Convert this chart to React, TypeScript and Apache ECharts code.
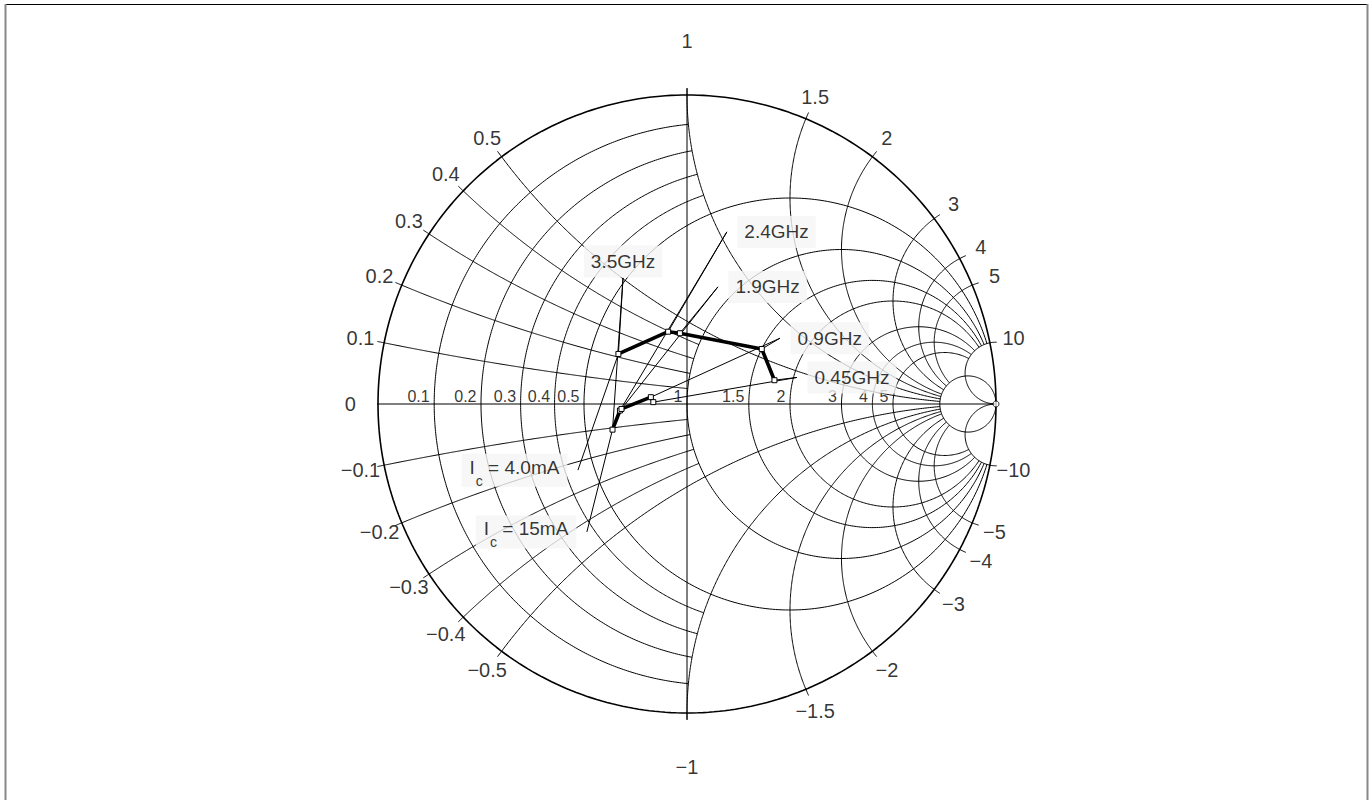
import React, { useEffect, useRef } from "react";
import * as echarts from "echarts";

const FONT = "'Liberation Sans', Arial, Helvetica, sans-serif";

// Smith chart grid values (each circle is drawn until it meets the circle of the other family given in the *Max arrays)
const resistanceValues = [0.1, 0.2, 0.3, 0.4, 0.5, 1, 1.5, 2, 3, 4, 5, 10];
const resistanceMaxX = [1, 1, 1, 1, 10, 10, 10, 10, 10, 10, 10, Infinity];
const reactanceValues = [0.1, 0.2, 0.3, 0.4, 0.5, 1, 1.5, 2, 3, 4, 5, 10];
const reactanceMaxR = [1, 1, 1, 1, 10, 10, 10, 10, 10, 10, 10, Infinity];
const outerTickValues = [0, 0.1, 0.2, 0.3, 0.4, 0.5, 1, 1.5, 2, 3, 4, 5, 10, -0.1, -0.2, -0.3, -0.4, -0.5, -1, -1.5, -2, -3, -4, -5, -10];
const realAxisTickValues = [0.1, 0.2, 0.3, 0.4, 0.5, 1, 1.5, 2, 3, 4, 5];

// Measured reflection coefficients
const frequencies = ["3.5GHz", "2.4GHz", "1.9GHz", "0.9GHz", "0.45GHz"];
const gammaRe4mA = [-0.222, -0.061, -0.023, 0.242, 0.283];
const gammaIm4mA = [0.162, 0.234, 0.229, 0.178, 0.077];
const gammaRe15mA = [-0.241, -0.217, -0.212, -0.117, -0.109];
const gammaIm15mA = [-0.083, -0.021, -0.016, 0.022, 0.006];

// annotation anchor positions (layout, in chart units)
const freqAnchorRe = [-0.207, 0.129, 0.1, 0.301, 0.356];
const freqAnchorIm = [0.408, 0.557, 0.379, 0.213, 0.086];
const currentLabels = ["4.0mA", "15mA"];
const currentAnchorRe = [-0.353, -0.324];
const currentAnchorIm = [-0.214, -0.414];

const TWO_PI = Math.PI * 2;

function gamma(r: number, x: number): [number, number] {
  const den = (r + 1) * (r + 1) + x * x;
  return [(r * r - 1 + x * x) / den, (2 * x) / den];
}

function resistanceArc(r: number, maxX: number): number[][] {
  const c = r / (1 + r);
  const rho = 1 / (1 + r);
  let a1 = 0;
  if (isFinite(maxX)) {
    const g = gamma(r, maxX);
    a1 = Math.atan2(g[1], g[0] - c);
  }
  const a2 = TWO_PI - a1;
  const n = 360;
  const pts: number[][] = [];
  for (let i = 0; i <= n; i++) {
    const a = a1 + ((a2 - a1) * i) / n;
    pts.push([c + rho * Math.cos(a), rho * Math.sin(a)]);
  }
  return pts;
}

function norm(a: number) {
  return ((a % TWO_PI) + TWO_PI) % TWO_PI;
}

function reactanceArc(x: number, maxR: number, tick: number): number[][] {
  const ax = Math.abs(x);
  const cy = 1 / ax;
  const rho = 1 / ax;
  const g0 = gamma(0, ax);
  const a0 = norm(Math.atan2(g0[1] - cy, g0[0] - 1));
  let a1 = 1.5 * Math.PI;
  if (isFinite(maxR)) {
    const g1 = gamma(maxR, ax);
    a1 = norm(Math.atan2(g1[1] - cy, g1[0] - 1));
  }
  const start = a0 - tick / rho;
  const n = 300;
  const sgn = x < 0 ? -1 : 1;
  const pts: number[][] = [];
  for (let i = 0; i <= n; i++) {
    const a = start + ((a1 - start) * i) / n;
    pts.push([1 + rho * Math.cos(a), sgn * (cy + rho * Math.sin(a))]);
  }
  return pts;
}

function fmt(v: number) {
  return v < 0 ? "\u2212" + String(Math.abs(v)) : String(v);
}

function outerLabelPos(v: number): number[] {
  let dir: [number, number];
  if (v === 0) dir = [-1, 0];
  else dir = gamma(0, v);
  let rad = 1.078;
  if (v === 0) rad = 1.09;
  if (Math.abs(v) === 1) rad = 1.175;
  return [dir[0] * rad, dir[1] * rad];
}

function gridLine(data: number[][], width = 1, z = 1) {
  return {
    type: "line",
    data,
    symbol: "none",
    showSymbol: false,
    clip: false,
    silent: true,
    z,
    lineStyle: { color: "#000", width },
    animation: false,
  };
}

function buildOption() {
  const series: any[] = [];
  const TICK = 0.022;

  // outer circle
  series.push(gridLine(resistanceArc(0, Infinity), 1.6, 2));
  resistanceValues.forEach((r, i) => series.push(gridLine(resistanceArc(r, resistanceMaxX[i]))));
  reactanceValues.forEach((x, i) => {
    series.push(gridLine(reactanceArc(x, reactanceMaxR[i], TICK)));
    series.push(gridLine(reactanceArc(-x, reactanceMaxR[i], TICK)));
  });
  // real axis
  series.push(gridLine([[-1 - TICK, 0], [1, 0]]));
  // imaginary axis
  series.push(gridLine([[0, -1 - TICK], [0, 1 + TICK]]));

  // infinity marker
  series.push({
    type: "scatter",
    data: [[1, 0]],
    symbol: "circle",
    symbolSize: 6,
    silent: true,
    clip: false,
    z: 3,
    itemStyle: { color: "#fff", borderColor: "#000", borderWidth: 1 },
  });

  // outer labels
  series.push({
    type: "scatter",
    symbolSize: 1,
    silent: true,
    clip: false,
    z: 4,
    itemStyle: { color: "transparent" },
    data: outerTickValues.map((v) => ({ value: outerLabelPos(v), name: fmt(v) })),
    label: {
      show: true,
      position: "inside",
      formatter: "{b}",
      fontSize: 20,
      color: "#000",
      fontFamily: FONT,
    },
  });

  // real axis labels
  series.push({
    type: "scatter",
    symbolSize: 1,
    silent: true,
    clip: false,
    z: 4,
    itemStyle: { color: "transparent" },
    data: realAxisTickValues.map((r) => ({ value: [(r - 1) / (r + 1), 0], name: fmt(r) })),
    label: {
      show: true,
      position: [-4, 1],
      align: "right",
      verticalAlign: "bottom",
      formatter: "{b}",
      fontSize: 16,
      color: "#000",
      fontFamily: FONT,
    },
  });

  // connectors
  frequencies.forEach((f, i) => {
    const a = [freqAnchorRe[i], freqAnchorIm[i]];
    series.push(gridLine([a, [gammaRe4mA[i], gammaIm4mA[i]]], 1, 5));
    series.push(gridLine([a, [gammaRe15mA[i], gammaIm15mA[i]]], 1, 5));
  });
  series.push(gridLine([[currentAnchorRe[0], currentAnchorIm[0]], [gammaRe4mA[0], gammaIm4mA[0]]], 1, 5));
  series.push(gridLine([[currentAnchorRe[1], currentAnchorIm[1]], [gammaRe15mA[0], gammaIm15mA[0]]], 1, 5));

  // traces
  const trace = (re: number[], im: number[]) => ({
    type: "line",
    data: re.map((v, i) => [v, im[i]]),
    symbol: "rect",
    symbolSize: 5,
    showSymbol: true,
    clip: false,
    silent: true,
    z: 6,
    lineStyle: { color: "#000", width: 3.6 },
    itemStyle: { color: "#fff", borderColor: "#000", borderWidth: 1 },
  });
  series.push(trace(gammaRe4mA, gammaIm4mA));
  series.push(trace(gammaRe15mA, gammaIm15mA));

  // frequency labels
  const boxStyle = {
    backgroundColor: "#f5f5f5",
    color: "#000",
    fontFamily: FONT,
    fontSize: 19,
    lineHeight: 22,
    padding: [5, 7, 5, 7],
  };
  series.push({
    type: "scatter",
    symbolSize: 1,
    silent: true,
    clip: false,
    z: 8,
    itemStyle: { color: "transparent" },
    data: frequencies.map((f, i) => ({
      value: [freqAnchorRe[i], freqAnchorIm[i]],
      name: f,
      label: i === 0 ? { position: "top", distance: 0 } : { position: "right", distance: 10 },
    })),
    label: { show: true, formatter: "{b}", ...boxStyle },
  });

  // current labels
  series.push({
    type: "scatter",
    symbolSize: 1,
    silent: true,
    clip: false,
    z: 8,
    itemStyle: { color: "transparent" },
    data: currentLabels.map((c, i) => ({
      value: [currentAnchorRe[i], currentAnchorIm[i]],
      name: c,
    })),
    label: {
      show: true,
      position: "left",
      distance: 10,
      formatter: (p: any) => "{m|I}{s|c}{m| = " + p.name + "}",
      backgroundColor: "#f5f5f5",
      padding: [4, 8, 7, 8],
      rich: {
        m: { fontSize: 19, lineHeight: 22, verticalAlign: "top", fontFamily: FONT, color: "#000" },
        s: { fontSize: 14, lineHeight: 14, padding: [16, 0, 0, 1], verticalAlign: "top", fontFamily: FONT, color: "#000" },
      },
    },
  });

  return {
    animation: false,
    backgroundColor: "#fff",
    grid: { left: 378, top: 95, width: 618, height: 618, show: false },
    xAxis: { type: "value", min: -1, max: 1, show: false },
    yAxis: { type: "value", min: -1, max: 1, show: false },
    graphic: [
      { type: "line", silent: true, shape: { x1: 6, y1: 4.5, x2: 1368, y2: 4.5 }, style: { stroke: "#000", lineWidth: 1 } },
      { type: "line", silent: true, shape: { x1: 5.5, y1: 4, x2: 5.5, y2: 800 }, style: { stroke: "#888", lineWidth: 2 } },
      { type: "line", silent: true, shape: { x1: 1367.5, y1: 4, x2: 1367.5, y2: 800 }, style: { stroke: "#888", lineWidth: 2 } },
    ],
    series,
  };
}

export default function App() {
  const ref = useRef<HTMLDivElement>(null);
  useEffect(() => {
    const chart = echarts.init(ref.current!, null, { renderer: "svg" });
    chart.setOption(buildOption() as any);
    return () => chart.dispose();
  }, []);
  return <div ref={ref} style={{ position: "absolute", left: 0, top: 0, width: 1371, height: 800 }} />;
}
